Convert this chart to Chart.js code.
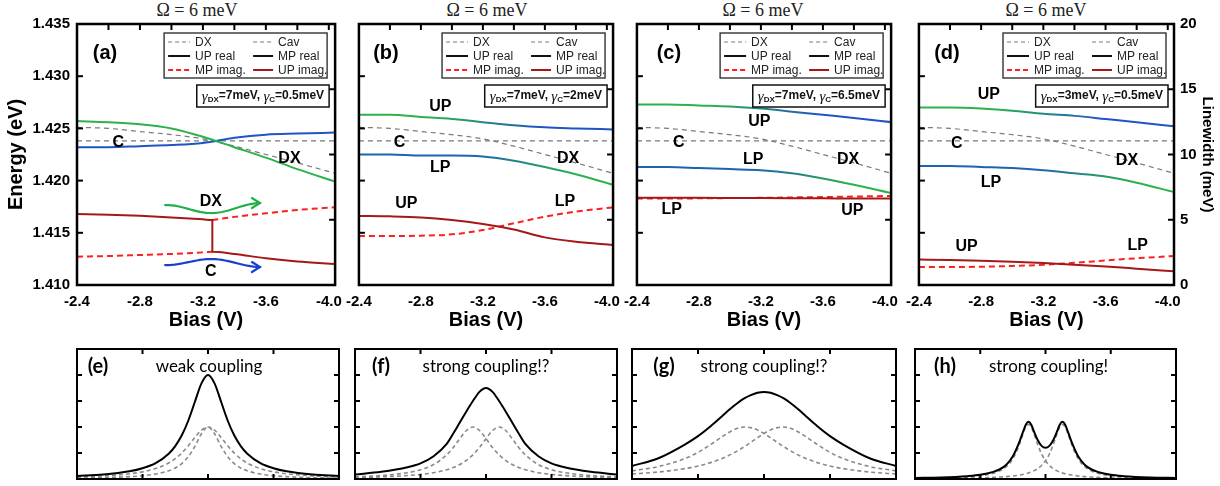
<!DOCTYPE html>
<html><head><meta charset="utf-8">
<script src="https://cdn.jsdelivr.net/npm/chart.js@4.4.1/dist/chart.umd.min.js"></script>
<style>
html,body{margin:0;padding:0;background:#fff;width:1220px;height:486px;overflow:hidden;position:relative;}
canvas{position:absolute;}
.omega{position:absolute;top:0;font-family:"Liberation Serif","DejaVu Serif",serif;font-size:18px;color:#222;width:200px;text-align:center;line-height:20px;}
</style></head><body>
<div class="omega" style="left:97px">Ω = 6 meV</div>
<div class="omega" style="left:387px">Ω = 6 meV</div>
<div class="omega" style="left:663px">Ω = 6 meV</div>
<div class="omega" style="left:946px">Ω = 6 meV</div>
<canvas id="ca" width="350" height="340" style="left:0;top:0"></canvas>
<canvas id="cb" width="290" height="340" style="left:338px;top:0"></canvas>
<canvas id="cc" width="290" height="340" style="left:616px;top:0"></canvas>
<canvas id="cd" width="322" height="340" style="left:898px;top:0"></canvas>
<canvas id="ce" width="290" height="146" style="left:60px;top:340px"></canvas>
<canvas id="cf" width="290" height="146" style="left:340px;top:340px"></canvas>
<canvas id="cg" width="290" height="146" style="left:618px;top:340px"></canvas>
<canvas id="ch" width="290" height="146" style="left:900px;top:340px"></canvas>
<script>
// ---------------- data ----------------
const biasPts = [-2.4, -2.6, -2.8, -3.0, -3.2, -3.4, -3.6, -3.8, -4.04];
const biasTicks = [-2.4, -2.8, -3.2, -3.6, -4.0];
const biasMinorTicks = [-2.6, -2.8, -3.0, -3.2, -3.4, -3.6, -3.8, -4.0];
const energyTicks = [1.410, 1.415, 1.420, 1.425, 1.430, 1.435];
const energyInnerTicks = [1.415, 1.420, 1.425, 1.430];
const linewidthTicks = [0, 5, 10, 15, 20];
const linewidthInnerTicks = [5, 10, 15];

const dxEnergy  = [1.4251, 1.4250, 1.4247, 1.4244, 1.4240, 1.4233, 1.4225, 1.4217, 1.4207];
const cavEnergy = [1.4238, 1.4238, 1.4238, 1.4238, 1.4238, 1.4238, 1.4238, 1.4238, 1.4238];

// panel (a)
const aGreenReal = [1.4257, 1.4256, 1.4254, 1.4250, 1.4242, 1.4232, 1.4222, 1.4211, 1.4199];
const aBlueReal  = [1.4232, 1.4232, 1.4233, 1.4234, 1.4236, 1.4241, 1.4244, 1.4245, 1.4246];
const aUpImagBias = [-2.4, -2.6, -2.8, -3.0, -3.2, -3.26, -3.26, -3.4, -3.6, -3.8, -4.04];
const aUpImag     = [5.44, 5.38, 5.30, 5.18, 5.03, 4.98, 2.55, 2.38, 2.05, 1.80, 1.61];
const aMpImagBias = [-2.4, -2.6, -2.8, -3.0, -3.2, -3.26, -3.26, -3.26, -3.4, -3.6, -3.8, -4.04];
const aMpImag     = [2.17, 2.22, 2.30, 2.38, 2.50, 2.55, null, 4.98, 5.22, 5.49, 5.75, 5.95];
// panel (b)
const bUpReal = [1.4263, 1.4263, 1.4261, 1.4259, 1.4256, 1.4253, 1.4251, 1.4250, 1.4249];
const bLpReal = [1.4225, 1.4225, 1.4224, 1.4224, 1.4223, 1.4219, 1.4213, 1.4206, 1.4196];
const bUpImag = [5.29, 5.26, 5.18, 4.98, 4.67, 4.25, 3.65, 3.32, 3.07];
const bMpImag = [3.75, 3.75, 3.78, 3.88, 4.21, 4.73, 5.24, 5.62, 5.95];
// panel (c)
const cUpReal = [1.4273, 1.4273, 1.4272, 1.4271, 1.4269, 1.4266, 1.4263, 1.4260, 1.4256];
const cLpReal = [1.4213, 1.4213, 1.4212, 1.4211, 1.4210, 1.4207, 1.4202, 1.4196, 1.4188];
const cUpImag = [6.69, 6.68, 6.68, 6.67, 6.66, 6.65, 6.64, 6.63, 6.62];
const cMpImag = [6.62, 6.63, 6.64, 6.66, 6.68, 6.71, 6.74, 6.78, 6.82];
// panel (d)
const dUpReal = [1.4270, 1.4270, 1.4269, 1.4267, 1.4264, 1.4262, 1.4259, 1.4256, 1.4252];
const dLpReal = [1.4214, 1.4214, 1.4213, 1.4212, 1.4210, 1.4207, 1.4204, 1.4198, 1.4189];
const dUpImag = [1.95, 1.92, 1.86, 1.78, 1.68, 1.56, 1.42, 1.25, 1.05];
const dMpImag = [1.38, 1.38, 1.40, 1.46, 1.55, 1.70, 1.88, 2.05, 2.22];

const gammaDX = ['7meV', '7meV', '7meV', '3meV'];
const gammaC  = ['0.5meV', '2meV', '6.5meV', '0.5meV'];
const legendNames = ['DX', 'Cav', 'UP real', 'MP real', 'MP imag.', 'UP imag.'];

// spectra (e)-(g)
const specX = [-10, -8, -6, -5, -4, -3, -2.5, -2, -1.5, -1, -0.5, 0, 0.5, 1, 1.5, 2, 2.5, 3, 4, 5, 6, 8, 10];
const eTotal = [0.0225, 0.0346, 0.0594, 0.0829, 0.122, 0.195, 0.253, 0.336, 0.450, 0.594, 0.736, 0.80, 0.736, 0.594, 0.450, 0.336, 0.253, 0.195, 0.122, 0.0829, 0.0594, 0.0346, 0.0225];
const eDashBroad = [0.0154, 0.0235, 0.040, 0.055, 0.080, 0.123, 0.156, 0.200, 0.256, 0.320, 0.376, 0.40, 0.376, 0.320, 0.256, 0.200, 0.156, 0.123, 0.080, 0.055, 0.040, 0.0235, 0.0154];
const eDashNarrow = [0.0067, 0.0103, 0.018, 0.025, 0.038, 0.063, 0.085, 0.119, 0.172, 0.251, 0.348, 0.40, 0.348, 0.251, 0.172, 0.119, 0.085, 0.063, 0.038, 0.025, 0.018, 0.0103, 0.0067];
const fTotal = [0.035, 0.055, 0.09, 0.12, 0.175, 0.27, 0.35, 0.435, 0.52, 0.60, 0.67, 0.70, 0.67, 0.60, 0.52, 0.435, 0.35, 0.27, 0.175, 0.12, 0.09, 0.055, 0.035];
const fDashLeft = [0.0164, 0.0264, 0.0486, 0.0712, 0.111, 0.186, 0.242, 0.310, 0.373, 0.40, 0.373, 0.310, 0.242, 0.186, 0.1425, 0.111, 0.0881, 0.0712, 0.0486, 0.0351, 0.0264, 0.0164, 0.0111];
const fDashRight = [0.0111, 0.0164, 0.0264, 0.0351, 0.0486, 0.0712, 0.0881, 0.111, 0.1425, 0.186, 0.242, 0.310, 0.373, 0.40, 0.373, 0.310, 0.242, 0.186, 0.111, 0.0712, 0.0486, 0.0264, 0.0164];
const gTotal = [0.10, 0.16, 0.265, 0.33, 0.41, 0.50, 0.545, 0.585, 0.62, 0.645, 0.663, 0.67, 0.663, 0.645, 0.62, 0.585, 0.545, 0.50, 0.41, 0.33, 0.265, 0.16, 0.10];
const gDashLeft = [0.0625, 0.0957, 0.157, 0.205, 0.268, 0.337, 0.3675, 0.3897, 0.3997, 0.3954, 0.3777, 0.350, 0.3165, 0.2815, 0.2478, 0.2169, 0.1895, 0.1657, 0.1278, 0.1002, 0.080, 0.0537, 0.0381];
const gDashRight = [0.0381, 0.0537, 0.080, 0.1002, 0.1278, 0.1657, 0.1895, 0.2169, 0.2478, 0.2815, 0.3165, 0.350, 0.3777, 0.3954, 0.3997, 0.3897, 0.3675, 0.337, 0.268, 0.205, 0.157, 0.0957, 0.0625];
// spectrum (h)
const hX = [-10, -8, -6, -5, -4, -3.5, -3, -2.5, -2, -1.75, -1.5, -1.3, -1.1, -0.9, -0.6, -0.3, 0, 0.3, 0.6, 0.9, 1.1, 1.3, 1.5, 1.75, 2, 2.5, 3, 3.5, 4, 5, 6, 8, 10];
const hTotal = [0.008, 0.012, 0.022, 0.032, 0.055, 0.075, 0.11, 0.175, 0.285, 0.355, 0.42, 0.44, 0.42, 0.37, 0.30, 0.255, 0.24, 0.255, 0.30, 0.37, 0.42, 0.44, 0.42, 0.355, 0.285, 0.175, 0.11, 0.075, 0.055, 0.032, 0.022, 0.012, 0.008];
const hDashLeft = [0.0046, 0.0078, 0.0155, 0.0244, 0.0437, 0.0625, 0.095, 0.1555, 0.266, 0.339, 0.401, 0.42, 0.401, 0.353, 0.266, 0.1925, 0.140, 0.1043, 0.0797, 0.0625, 0.0538, 0.0467, 0.0409, 0.035, 0.0303, 0.0232, 0.0184, 0.0149, 0.0123, 0.0088, 0.0066, 0.0041, 0.0028];
const hDashRight = [0.0028, 0.0041, 0.0066, 0.0088, 0.0123, 0.0149, 0.0184, 0.0232, 0.0303, 0.035, 0.0409, 0.0467, 0.0538, 0.0625, 0.0797, 0.1043, 0.140, 0.1925, 0.266, 0.353, 0.401, 0.42, 0.401, 0.339, 0.266, 0.1555, 0.095, 0.0625, 0.0437, 0.0244, 0.0155, 0.0078, 0.0046];
const specTicksX = [-5, 0, 5];
const specTicksY = [0.2, 0.4, 0.6, 0.8];

// ---------------- styling ----------------
const FONT = '"Liberation Sans", Arial, sans-serif';
const SFONT = 'Lato, "Open Sans", sans-serif';
const GREEN = '#2bb24c', BLUE = '#1f55c0', LPBLUE = '#1f62b0', DARKRED = '#a51818', RED = '#ff1f1f', GREY = '#7a7a7a';
Chart.defaults.font.family = FONT;
Chart.defaults.color = '#000';

function pts(xs, ys) { return xs.map((x, i) => ({ x: x, y: ys[i] })); }
function hGrad(stops) {
  return (c) => {
    const ch = c.chart, a = ch.chartArea;
    if (!a) return stops[0][1];
    const g = ch.ctx.createLinearGradient(a.left, 0, a.right, 0);
    stops.forEach(s => g.addColorStop(s[0], s[1]));
    return g;
  };
}
const upGrad = [[0, GREEN], [0.3, GREEN], [0.72, BLUE], [1, BLUE]];
const lpGrad = [[0, LPBLUE], [0.45, LPBLUE], [0.85, GREEN], [1, GREEN]];

const panelConf = {};

function textAt(ctx, t, x, y, font, align) {
  ctx.font = font; ctx.fillStyle = '#000'; ctx.textAlign = align || 'center'; ctx.textBaseline = 'middle';
  ctx.fillText(t, x, y);
}

function drawLegend(ctx, a) {
  const w = 163, h = 45, x = a.right - 8 - w, y = a.top + 9;
  ctx.fillStyle = '#fff'; ctx.fillRect(x, y, w, h);
  ctx.setLineDash([]); ctx.strokeStyle = '#333'; ctx.lineWidth = 1.4; ctx.strokeRect(x, y, w, h);
  const styles = [
    { c: GREY, w: 1.2, d: [4, 3] }, { c: GREY, w: 1.2, d: [4, 3] },
    { c: '#111', w: 2, d: [] }, { c: '#111', w: 2, d: [] },
    { c: RED, w: 2, d: [5, 3] }, { c: DARKRED, w: 2, d: [] }
  ];
  legendNames.forEach((n, i) => {
    const col = i % 2, row = Math.floor(i / 2);
    const ly = y + 9 + row * 14;
    const lx1 = x + (col ? 89 : 4), lx2 = x + (col ? 109 : 26), tx = x + (col ? 114 : 31);
    const s = styles[i];
    ctx.beginPath(); ctx.setLineDash(s.d); ctx.strokeStyle = s.c; ctx.lineWidth = s.w;
    ctx.moveTo(lx1, ly); ctx.lineTo(lx2, ly); ctx.stroke();
    ctx.setLineDash([]);
    ctx.font = '12px ' + FONT; ctx.fillStyle = '#222'; ctx.textAlign = 'left'; ctx.textBaseline = 'middle';
    ctx.fillText(n, tx, ly + 0.5);
  });
}

function drawGamma(ctx, a, dx, c) {
  const parts = [
    { t: 'γ', f: 'italic 15px "Liberation Serif", serif', dy: 1 },
    { t: 'DX', f: 'bold 8px ' + FONT, dy: 4 },
    { t: '=' + dx + ', ', f: 'bold 12px ' + FONT, dy: 0 },
    { t: 'γ', f: 'italic 15px "Liberation Serif", serif', dy: 1 },
    { t: 'C', f: 'bold 8px ' + FONT, dy: 4 },
    { t: '=' + c, f: 'bold 12px ' + FONT, dy: 0 }
  ];
  let tw = 0;
  parts.forEach(p => { ctx.font = p.f; p.w = ctx.measureText(p.t).width; tw += p.w; });
  const w = tw + 10, h = 22, x = a.right - 6 - w, y = a.top + 61;
  ctx.fillStyle = '#fff'; ctx.fillRect(x, y, w, h);
  ctx.setLineDash([]); ctx.strokeStyle = '#111'; ctx.lineWidth = 1.5; ctx.strokeRect(x, y, w, h);
  let cx = x + 5;
  parts.forEach(p => {
    ctx.font = p.f; ctx.fillStyle = '#111'; ctx.textAlign = 'left'; ctx.textBaseline = 'middle';
    ctx.fillText(p.t, cx, y + h / 2 + p.dy); cx += p.w;
  });
}

function drawWaveArrow(ctx, chart, ar) {
  const xs = chart.scales.x, ys = chart.scales.y;
  const x0 = xs.getPixelForValue(ar.x0), x1 = xs.getPixelForValue(ar.x1);
  const y0 = ys.getPixelForValue(ar.y0), y1 = ys.getPixelForValue(ar.y1);
  ctx.save(); ctx.setLineDash([]); ctx.strokeStyle = ar.color; ctx.lineWidth = 2.2; ctx.lineCap = 'round';
  ctx.beginPath();
  for (let i = 0; i <= 30; i++) {
    const t = i / 30;
    const px = x0 + (x1 - x0) * t;
    const py = y0 + (y1 - y0) * t + ar.amp * Math.pow(Math.sin(Math.PI * t), 2);
    if (i === 0) ctx.moveTo(px, py); else ctx.lineTo(px, py);
  }
  ctx.stroke();
  ctx.beginPath(); ctx.moveTo(x1 - 8, y1 - 5); ctx.lineTo(x1, y1); ctx.lineTo(x1 - 8, y1 + 5); ctx.stroke();
  ctx.restore();
}

const decor = {
  id: 'decor',
  afterDatasetsDraw(chart) {
    const conf = panelConf[chart.canvas.id]; if (!conf) return;
    const ctx = chart.ctx, a = chart.chartArea;
    ctx.save();
    ctx.setLineDash([]); ctx.strokeStyle = '#000'; ctx.lineWidth = 2;
    conf.ticks.forEach(spec => {
      const s = chart.scales[spec.scale];
      spec.values.forEach(v => {
        const p = s.getPixelForValue(v);
        spec.sides.forEach(side => {
          ctx.beginPath();
          if (side === 'top') { ctx.moveTo(p, a.top); ctx.lineTo(p, a.top + conf.tickLen); }
          else if (side === 'bottom') { ctx.moveTo(p, a.bottom); ctx.lineTo(p, a.bottom - conf.tickLen); }
          else if (side === 'left') { ctx.moveTo(a.left, p); ctx.lineTo(a.left + conf.tickLen, p); }
          else { ctx.moveTo(a.right, p); ctx.lineTo(a.right - conf.tickLen, p); }
          ctx.stroke();
        });
      });
    });
    ctx.lineWidth = conf.frame; ctx.strokeStyle = '#000';
    ctx.strokeRect(a.left, a.top, a.right - a.left, a.bottom - a.top);
    if (conf.arrows) conf.arrows.forEach(ar => drawWaveArrow(ctx, chart, ar));
    if (conf.legend) drawLegend(ctx, a);
    if (conf.gamma) drawGamma(ctx, a, conf.gamma[0], conf.gamma[1]);
    if (conf.labels) conf.labels.forEach(l => {
      textAt(ctx, l.t, chart.scales.x.getPixelForValue(l.x), chart.scales.y.getPixelForValue(l.y), 'bold 16px ' + FONT);
    });
    if (conf.letter) textAt(ctx, conf.letter.t, a.left + conf.letter.dx, a.top + conf.letter.dy, conf.letter.font);
    if (conf.title) textAt(ctx, conf.title.t, (a.left + a.right) / 2 + conf.title.dx, a.top + conf.title.dy, conf.title.font);
    ctx.restore();
  }
};

function topChart(id, o) {
  const line = (data, color, w, dash, axis, label) => ({
    label: label, data: data, borderColor: color, borderWidth: w, borderDash: dash, yAxisID: axis,
    pointRadius: 0, fill: false, cubicInterpolationMode: 'monotone', spanGaps: false
  });
  const datasets = [
    line(pts(biasPts, o.up), o.upColor, 2, [], 'y', 'UP real'),
    line(pts(biasPts, o.lp), o.lpColor, 2, [], 'y', 'LP real'),
    line(pts(o.upImagX || biasPts, o.upImag), DARKRED, 2, [], 'y2', 'UP imag.'),
    line(pts(o.mpImagX || biasPts, o.mpImag), RED, 2, [6, 4], 'y2', 'MP imag.'),
    line(pts(biasPts, dxEnergy), GREY, 1.2, [5, 4], 'y', 'DX'),
    line(pts(biasPts, cavEnergy), GREY, 1.2, [5, 4], 'y', 'Cav')
  ];
  panelConf[id] = {
    frame: 2.5, tickLen: 6,
    ticks: [
      { scale: 'x', values: biasMinorTicks, sides: ['top'] },
      { scale: 'y', values: energyInnerTicks, sides: ['left'] },
      { scale: 'y2', values: linewidthInnerTicks, sides: ['right'] }
    ],
    legend: true, gamma: o.gamma, labels: o.labels, arrows: o.arrows,
    letter: { t: o.letter, dx: o.letterDx, dy: 29, font: 'bold 20px ' + FONT }
  };
  new Chart(document.getElementById(id), {
    type: 'line',
    data: { datasets: datasets },
    plugins: [decor],
    options: {
      responsive: false, animation: false, events: [],
      layout: { padding: o.pad },
      plugins: { legend: { display: false }, tooltip: { enabled: false } },
      scales: {
        x: {
          type: 'linear', min: -4.04, max: -2.4, reverse: true,
          afterBuildTicks: s => { s.ticks = biasTicks.map(v => ({ value: v })); },
          afterFit: s => { s.height = 50; },
          grid: { display: false, drawTicks: false }, border: { display: false },
          ticks: { autoSkip: false, maxRotation: 0, minRotation: 0, padding: 8, color: '#000',
                   font: { size: 15, weight: 'bold' }, callback: v => Number(v).toFixed(1) },
          title: { display: true, text: 'Bias (V)', color: '#000', font: { size: 20, weight: 'bold' }, padding: { top: 0, bottom: 3 } }
        },
        y: {
          type: 'linear', position: 'left', display: o.showY, min: 1.410, max: 1.435,
          afterBuildTicks: s => { s.ticks = energyTicks.map(v => ({ value: v })); },
          afterFit: s => { if (o.showY) s.width = 77; },
          grid: { display: false, drawTicks: false }, border: { display: false },
          ticks: { padding: 7, color: '#000', font: { size: 15, weight: 'bold' }, callback: v => Number(v).toFixed(3) },
          title: { display: true, text: 'Energy (eV)', color: '#000', font: { size: 20, weight: 'bold' }, padding: { top: 4, bottom: 0 } }
        },
        y2: {
          type: 'linear', position: 'right', display: o.showY2, min: 0, max: 20,
          afterBuildTicks: s => { s.ticks = linewidthTicks.map(v => ({ value: v })); },
          afterFit: s => { if (o.showY2) s.width = 46; },
          grid: { display: false, drawTicks: false }, border: { display: false },
          ticks: { padding: 6, color: '#000', font: { size: 15, weight: 'bold' }, callback: v => String(v) },
          title: { display: true, text: 'Linewidth (meV)', color: '#000', font: { size: 15, weight: 'bold' }, padding: { top: 4, bottom: 0 } }
        }
      }
    }
  });
}

topChart('ca', {
  up: aGreenReal, lp: aBlueReal, upColor: GREEN, lpColor: BLUE,
  upImag: aUpImag, upImagX: aUpImagBias, mpImag: aMpImag, mpImagX: aMpImagBias,
  showY: true, showY2: false, pad: { left: 0, right: 11, top: 24, bottom: 5 },
  gamma: [gammaDX[0], gammaC[0]], letter: '(a)', letterDx: 28,
  labels: [
    { t: 'C', x: -2.6625, y: 1.4236 }, { t: 'DX', x: -3.75, y: 1.42207 },
    { t: 'DX', x: -3.25, y: 1.41795 }, { t: 'C', x: -3.25, y: 1.41124 }
  ],
  arrows: [
    { x0: -2.96, y0: 1.41766, x1: -3.5625, y1: 1.41785, amp: 9, color: '#22b04a' },
    { x0: -2.96, y0: 1.41191, x1: -3.5625, y1: 1.41172, amp: -7, color: '#1a3fd0' }
  ]
});
topChart('cb', {
  up: bUpReal, lp: bLpReal, upColor: hGrad(upGrad), lpColor: hGrad(lpGrad),
  upImag: bUpImag, mpImag: bMpImag,
  showY: false, showY2: false, pad: { left: 18, right: 12, top: 24, bottom: 5 },
  gamma: [gammaDX[1], gammaC[1]], letter: '(b)', letterDx: 27,
  labels: [
    { t: 'UP', x: -2.925, y: 1.42705 }, { t: 'C', x: -2.6625, y: 1.4236 },
    { t: 'LP', x: -2.925, y: 1.4212 }, { t: 'DX', x: -3.75, y: 1.42207 },
    { t: 'UP', x: -2.706, y: 1.41776 }, { t: 'LP', x: -3.73, y: 1.41795 }
  ]
});
topChart('cc', {
  up: cUpReal, lp: cLpReal, upColor: hGrad(upGrad), lpColor: hGrad(lpGrad),
  upImag: cUpImag, mpImag: cMpImag,
  showY: false, showY2: false, pad: { left: 16, right: 12, top: 24, bottom: 5 },
  gamma: [gammaDX[2], gammaC[2]], letter: '(c)', letterDx: 32,
  labels: [
    { t: 'UP', x: -3.19, y: 1.42561 }, { t: 'C', x: -2.67, y: 1.4236 },
    { t: 'LP', x: -3.15, y: 1.42197 }, { t: 'DX', x: -3.7625, y: 1.42197 },
    { t: 'LP', x: -2.625, y: 1.41718 }, { t: 'UP', x: -3.79, y: 1.41709 }
  ]
});
topChart('cd', {
  up: dUpReal, lp: dLpReal, upColor: hGrad(upGrad), lpColor: hGrad(lpGrad),
  upImag: dUpImag, mpImag: dMpImag,
  showY: false, showY2: true, pad: { left: 18, right: 0, top: 24, bottom: 5 },
  gamma: [gammaDX[3], gammaC[3]], letter: '(d)', letterDx: 28,
  labels: [
    { t: 'UP', x: -2.85, y: 1.4282 }, { t: 'C', x: -2.644, y: 1.4235 },
    { t: 'DX', x: -3.7375, y: 1.42188 }, { t: 'LP', x: -2.8625, y: 1.41977 },
    { t: 'UP', x: -2.706, y: 1.41364 }, { t: 'LP', x: -3.806, y: 1.41373 }
  ]
});

function specChart(id, xs, total, dashA, dashB, pad, letter, letterDx, title, titleDx) {
  const ds = (data, color, w, dash, label) => ({
    label: label, data: pts(xs, data), borderColor: color, borderWidth: w, borderDash: dash,
    pointRadius: 0, fill: false, cubicInterpolationMode: 'monotone'
  });
  panelConf[id] = {
    frame: 2, tickLen: 5,
    ticks: [
      { scale: 'x', values: specTicksX, sides: ['top', 'bottom'] },
      { scale: 'y', values: specTicksY, sides: ['left', 'right'] }
    ],
    letter: { t: letter, dx: letterDx, dy: 18, font: 'bold 20px ' + SFONT },
    title: { t: title, dx: titleDx, dy: 18, font: '17px ' + SFONT }
  };
  new Chart(document.getElementById(id), {
    type: 'line',
    data: { datasets: [ds(total, '#000', 2, [], 'total'), ds(dashA, '#8a8a8a', 1.6, [4, 3], 'mode 1'), ds(dashB, '#8a8a8a', 1.6, [4, 3], 'mode 2')] },
    plugins: [decor],
    options: {
      responsive: false, animation: false, events: [],
      layout: { padding: pad },
      plugins: { legend: { display: false }, tooltip: { enabled: false } },
      scales: {
        x: { type: 'linear', display: false, min: -10, max: 10 },
        y: { type: 'linear', display: false, min: 0, max: 1 }
      }
    }
  });
}
specChart('ce', specX, eTotal, eDashBroad, eDashNarrow, { left: 17, right: 11, top: 9, bottom: 7 }, '(e)', 21, 'weak coupling', 1);
specChart('cf', specX, fTotal, fDashLeft, fDashRight, { left: 15, right: 13, top: 9, bottom: 7 }, '(f)', 26, 'strong coupling!?', 0);
specChart('cg', specX, gTotal, gDashLeft, gDashRight, { left: 14, right: 12, top: 9, bottom: 7 }, '(g)', 32, 'strong coupling!?', 0);
specChart('ch', hX, hTotal, hDashLeft, hDashRight, { left: 15, right: 14, top: 9, bottom: 7 }, '(h)', 30, 'strong coupling!', 3);
</script>
</body></html>
